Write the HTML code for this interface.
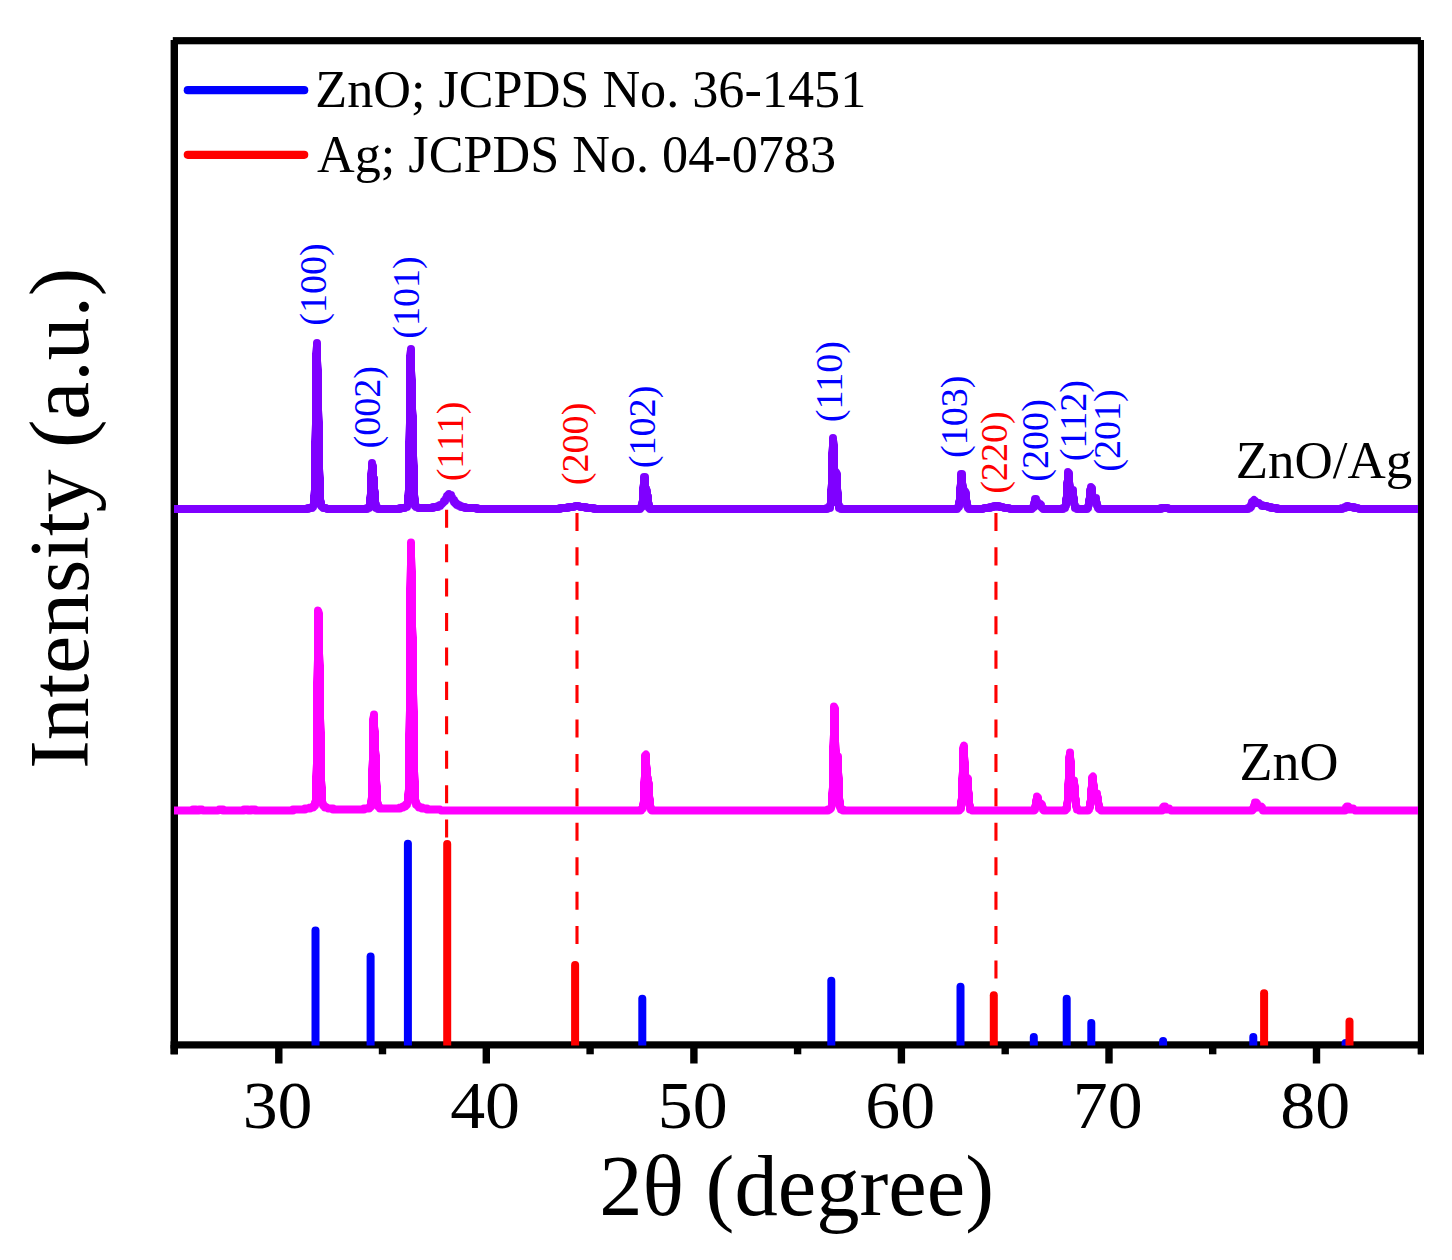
<!DOCTYPE html>
<html>
<head>
<meta charset="utf-8">
<title>XRD patterns of ZnO and ZnO/Ag</title>
<style>
html,body{margin:0;padding:0;background:#ffffff;}
body{width:1452px;height:1260px;overflow:hidden;}
svg{display:block;}
text{font-family:"Liberation Serif",serif;}
</style>
</head>
<body>
<svg width="1452" height="1260" viewBox="0 0 1452 1260">
<rect x="0" y="0" width="1452" height="1260" fill="#ffffff"/>

<!-- dashed guide lines -->

<line x1="446.6" y1="509.7" x2="446.6" y2="842" stroke="#ff0000" stroke-width="3.1" stroke-dasharray="18.05 16.38"/>
<line x1="577.0" y1="512.9" x2="577.0" y2="958" stroke="#ff0000" stroke-width="3.1" stroke-dasharray="18.05 16.38"/>
<line x1="995.95" y1="512.9" x2="995.95" y2="994" stroke="#ff0000" stroke-width="3.1" stroke-dasharray="18.05 16.38"/>


<!-- frame -->
<rect x="170.6" y="40" width="7.4" height="1014.3" fill="#000"/>
<rect x="172.8" y="37.1" width="1248.1" height="7.2" fill="#000"/>
<rect x="1417.8" y="40" width="6.2" height="1014.3" fill="#000"/>
<rect x="170.6" y="1041.3" width="1253.4" height="7.2" fill="#000"/>
<rect x="170.6" y="1045" width="7.2" height="9.3" fill="#000"/>
<rect x="275.1" y="1045" width="7.4" height="18.5" fill="#000"/>
<rect x="378.8" y="1045" width="7.4" height="9.3" fill="#000"/>
<rect x="482.6" y="1045" width="7.4" height="18.5" fill="#000"/>
<rect x="586.4" y="1045" width="7.4" height="9.3" fill="#000"/>
<rect x="690.2" y="1045" width="7.4" height="18.5" fill="#000"/>
<rect x="793.9" y="1045" width="7.4" height="9.3" fill="#000"/>
<rect x="897.7" y="1045" width="7.4" height="18.5" fill="#000"/>
<rect x="1001.5" y="1045" width="7.4" height="9.3" fill="#000"/>
<rect x="1105.3" y="1045" width="7.4" height="18.5" fill="#000"/>
<rect x="1209.0" y="1045" width="7.4" height="9.3" fill="#000"/>
<rect x="1312.8" y="1045" width="7.4" height="18.5" fill="#000"/>
<rect x="1417.8" y="1045" width="6.2" height="9.3" fill="#000"/>

<!-- XRD curves -->
<path d="M174,810.5 L193,810.5 L193,809.5 L196,809.5 L196,810.5 L199,810.5 L199,809.5 L202,809.5 L203,810.5 L218,810.5 L219,809.5 L223,809.5 L223,810.5 L244,810.5 L244,809.5 L248,809.5 L248,810.5 L251,810.5 L251,809.5 L255,809.5 L255,810.5 L293,810.5 L293,809.5 L305,809.5 L305,808.5 L310,808.5 L310,807.5 L313,807.5 L313,806.5 L314,806.5 L314,805.5 L315,805.5 L315,802.5 L316,800.5 L316,776.5 L317,763.5 L317,682.5 L318,659.5 L318,610.5 L319,613.5 L319,653.5 L320,665.5 L320,718.5 L321,732.5 L321,780.5 L322,787.5 L322,802.5 L323,803.5 L323,805.5 L324,806.5 L325,806.5 L325,807.5 L327,807.5 L328,808.5 L333,808.5 L333,809.5 L364,809.5 L364,808.5 L369,808.5 L369,807.5 L370,807.5 L370,806.5 L371,806.5 L371,801.5 L372,797.5 L372,769.5 L373,759.5 L373,719.5 L374,715.5 L374,714.5 L374,726.5 L375,731.5 L375,750.5 L376,755.5 L376,780.5 L377,786.5 L377,802.5 L378,803.5 L378,806.5 L379,807.5 L380,807.5 L380,808.5 L400,808.5 L400,807.5 L403,807.5 L403,806.5 L405,806.5 L405,805.5 L406,805.5 L406,804.5 L407,804.5 L407,803.5 L408,802.5 L408,794.5 L409,789.5 L409,734.5 L410,710.5 L410,588.5 L411,564.5 L411,542.5 L411,556.5 L412,571.5 L412,626.5 L413,637.5 L413,693.5 L414,711.5 L414,771.5 L415,781.5 L415,800.5 L416,801.5 L416,804.5 L417,804.5 L417,805.5 L418,806.5 L419,806.5 L419,807.5 L422,807.5 L422,808.5 L427,808.5 L427,809.5 L440,809.5 L441,810.5 L641,810.5 L641,809.5 L642,809.5 L643,808.5 L643,804.5 L644,801.5 L644,782.5 L645,776.5 L645,755.5 L646,754.5 L646,764.5 L647,768.5 L647,778.5 L648,778.5 L648,781.5 L649,783.5 L649,796.5 L650,799.5 L650,806.5 L651,807.5 L651,809.5 L652,809.5 L652,810.5 L828,810.5 L828,809.5 L830,809.5 L831,808.5 L831,807.5 L832,805.5 L832,793.5 L833,787.5 L833,746.5 L834,734.5 L834,706.5 L835,708.5 L835,741.5 L836,750.5 L836,767.5 L837,766.5 L837,756.5 L838,756.5 L838,772.5 L839,778.5 L839,798.5 L840,801.5 L840,807.5 L841,808.5 L841,809.5 L843,809.5 L843,810.5 L959,810.5 L959,809.5 L960,809.5 L960,808.5 L961,808.5 L961,801.5 L962,798.5 L962,778.5 L963,771.5 L963,748.5 L964,745.5 L964,756.5 L965,762.5 L965,782.5 L966,785.5 L966,786.5 L966,783.5 L967,781.5 L967,777.5 L968,778.5 L968,790.5 L969,793.5 L969,804.5 L970,805.5 L970,809.5 L971,809.5 L972,810.5 L1034,810.5 L1034,809.5 L1035,809.5 L1035,806.5 L1036,805.5 L1036,800.5 L1037,799.5 L1037,796.5 L1038,797.5 L1038,801.5 L1039,802.5 L1039,805.5 L1040,805.5 L1040,804.5 L1041,804.5 L1041,803.5 L1042,804.5 L1042,806.5 L1043,807.5 L1043,809.5 L1044,809.5 L1044,810.5 L1065,810.5 L1065,809.5 L1066,809.5 L1066,808.5 L1067,808.5 L1067,803.5 L1068,800.5 L1068,784.5 L1069,778.5 L1069,757.5 L1070,754.5 L1070,752.5 L1070,757.5 L1071,761.5 L1071,780.5 L1072,784.5 L1072,790.5 L1073,789.5 L1073,782.5 L1074,781.5 L1074,780.5 L1074,783.5 L1075,786.5 L1075,797.5 L1076,799.5 L1076,806.5 L1077,807.5 L1077,809.5 L1078,809.5 L1079,810.5 L1088,810.5 L1088,809.5 L1089,809.5 L1089,808.5 L1090,807.5 L1090,802.5 L1091,800.5 L1091,789.5 L1092,786.5 L1092,777.5 L1093,776.5 L1093,782.5 L1094,785.5 L1094,794.5 L1095,795.5 L1095,797.5 L1095,796.5 L1096,796.5 L1096,793.5 L1097,793.5 L1097,796.5 L1098,797.5 L1098,803.5 L1099,804.5 L1099,808.5 L1100,808.5 L1100,809.5 L1101,810.5 L1162,810.5 L1162,809.5 L1163,809.5 L1163,807.5 L1164,807.5 L1164,806.5 L1165,806.5 L1165,807.5 L1166,808.5 L1166,809.5 L1168,809.5 L1168,808.5 L1169,808.5 L1169,809.5 L1170,809.5 L1171,810.5 L1252,810.5 L1252,809.5 L1253,809.5 L1253,808.5 L1254,808.5 L1254,805.5 L1255,804.5 L1255,802.5 L1256,802.5 L1256,803.5 L1257,803.5 L1257,805.5 L1258,806.5 L1258,807.5 L1259,807.5 L1260,806.5 L1261,806.5 L1261,807.5 L1262,807.5 L1262,808.5 L1263,809.5 L1263,810.5 L1345,810.5 L1345,809.5 L1346,808.5 L1346,807.5 L1347,807.5 L1347,806.5 L1348,806.5 L1348,807.5 L1349,808.5 L1349,809.5 L1351,809.5 L1352,808.5 L1353,808.5 L1353,809.5 L1354,809.5 L1355,810.5 L1418,810.5" fill="none" stroke="#ff00ff" stroke-width="8" stroke-linejoin="round" stroke-linecap="butt"/>
<path d="M174,509.0 L308,509.0 L308,508.0 L312,508.0 L312,507.0 L313,507.0 L313,506.0 L314,505.0 L314,496.0 L315,490.0 L315,442.0 L316,424.0 L316,354.0 L317,346.0 L317,343.0 L317,361.0 L318,370.0 L318,410.0 L319,422.0 L319,469.0 L320,478.0 L320,500.0 L321,502.0 L321,506.0 L322,507.0 L323,508.0 L326,508.0 L327,509.0 L367,509.0 L367,508.0 L369,508.0 L369,507.0 L370,506.0 L370,498.0 L371,494.0 L371,474.0 L372,469.0 L372,463.0 L372,464.0 L373,466.0 L373,476.0 L374,478.0 L374,489.0 L375,492.0 L375,503.0 L376,504.0 L376,508.0 L378,508.0 L378,509.0 L400,509.0 L400,508.0 L405,508.0 L406,507.0 L407,507.0 L407,506.0 L408,505.0 L408,496.0 L409,490.0 L409,442.0 L410,423.0 L410,356.0 L411,350.0 L411,349.0 L411,371.0 L412,380.0 L412,409.0 L413,416.0 L413,456.0 L414,466.0 L414,495.0 L415,499.0 L415,506.0 L416,506.0 L416,507.0 L417,507.0 L418,508.0 L433,508.0 L433,507.0 L438,507.0 L438,506.0 L440,506.0 L440,505.0 L441,505.0 L442,504.0 L443,503.0 L444,502.0 L444,501.0 L445,501.0 L445,500.0 L446,499.0 L446,498.0 L447,497.0 L447,496.0 L448,496.0 L448,495.0 L449,495.0 L449,494.0 L450,495.0 L451,495.0 L451,496.0 L452,497.0 L452,498.0 L453,499.0 L453,500.0 L454,500.0 L454,502.0 L455,502.0 L455,503.0 L456,503.0 L456,504.0 L457,504.0 L457,505.0 L459,505.0 L459,506.0 L461,506.0 L461,507.0 L465,507.0 L465,508.0 L477,508.0 L477,509.0 L560,509.0 L560,508.0 L568,508.0 L568,507.0 L574,507.0 L575,506.0 L579,506.0 L580,507.0 L586,507.0 L586,508.0 L594,508.0 L594,509.0 L640,509.0 L640,508.0 L641,508.0 L642,507.0 L642,503.0 L643,501.0 L643,488.0 L644,484.0 L644,477.0 L645,477.0 L645,486.0 L646,488.0 L646,491.0 L647,491.0 L647,494.0 L648,496.0 L648,503.0 L649,504.0 L649,508.0 L650,508.0 L650,509.0 L827,509.0 L827,508.0 L830,508.0 L830,505.0 L831,504.0 L831,490.0 L832,484.0 L832,453.0 L833,446.0 L833,438.0 L833,440.0 L834,445.0 L834,471.0 L835,475.0 L835,479.0 L835,478.0 L836,476.0 L836,472.0 L837,474.0 L837,489.0 L838,493.0 L838,504.0 L839,505.0 L839,508.0 L841,508.0 L841,509.0 L957,509.0 L957,508.0 L958,508.0 L959,507.0 L959,502.0 L960,500.0 L960,488.0 L961,484.0 L961,474.0 L962,474.0 L962,483.0 L963,486.0 L963,495.0 L964,496.0 L964,493.0 L965,492.0 L965,491.0 L966,493.0 L966,500.0 L967,502.0 L967,506.0 L968,507.0 L968,508.0 L969,508.0 L969,509.0 L983,509.0 L984,508.0 L990,508.0 L990,507.0 L994,507.0 L994,506.0 L999,506.0 L999,507.0 L1003,507.0 L1004,508.0 L1009,508.0 L1010,509.0 L1032,509.0 L1033,508.0 L1033,507.0 L1034,507.0 L1034,503.0 L1035,502.0 L1035,499.0 L1036,499.0 L1036,500.0 L1037,501.0 L1037,504.0 L1038,505.0 L1039,505.0 L1039,504.0 L1040,504.0 L1040,505.0 L1041,505.0 L1041,507.0 L1042,508.0 L1043,509.0 L1063,509.0 L1063,508.0 L1065,508.0 L1065,507.0 L1066,506.0 L1066,499.0 L1067,497.0 L1067,483.0 L1068,480.0 L1068,472.0 L1069,473.0 L1069,482.0 L1070,486.0 L1070,495.0 L1071,496.0 L1071,494.0 L1072,493.0 L1072,490.0 L1073,490.0 L1073,496.0 L1074,498.0 L1074,504.0 L1075,505.0 L1075,508.0 L1077,508.0 L1077,509.0 L1087,509.0 L1087,508.0 L1088,508.0 L1088,506.0 L1089,505.0 L1089,500.0 L1090,498.0 L1090,490.0 L1091,489.0 L1091,487.0 L1092,488.0 L1092,495.0 L1093,496.0 L1093,500.0 L1094,500.0 L1094,499.0 L1095,498.0 L1096,498.0 L1096,502.0 L1097,503.0 L1097,506.0 L1098,507.0 L1098,508.0 L1099,508.0 L1099,509.0 L1161,509.0 L1161,508.0 L1168,508.0 L1169,509.0 L1248,509.0 L1248,508.0 L1250,508.0 L1250,507.0 L1251,507.0 L1251,505.0 L1252,505.0 L1252,502.0 L1253,502.0 L1253,501.0 L1254,500.0 L1254,501.0 L1255,501.0 L1255,503.0 L1259,503.0 L1260,504.0 L1261,505.0 L1262,505.0 L1262,506.0 L1267,506.0 L1268,507.0 L1271,507.0 L1271,508.0 L1277,508.0 L1277,509.0 L1342,509.0 L1342,508.0 L1345,508.0 L1345,507.0 L1347,507.0 L1347,506.0 L1348,506.0 L1348,507.0 L1354,507.0 L1354,508.0 L1358,508.0 L1359,509.0 L1418,509.0" fill="none" stroke="#7f00ff" stroke-width="8" stroke-linejoin="round" stroke-linecap="butt"/>

<!-- reference sticks -->
<path d="M311.5,1045.6 L311.5,930.4 A4.0,4.0 0 0 1 319.5,930.4 L319.5,1045.6 Z" fill="#0000ff"/>
<path d="M366.6,1045.6 L366.6,956.5 A4.0,4.0 0 0 1 374.6,956.5 L374.6,1045.6 Z" fill="#0000ff"/>
<path d="M403.9,1045.6 L403.9,843.8 A4.0,4.0 0 0 1 411.9,843.8 L411.9,1045.6 Z" fill="#0000ff"/>
<path d="M638.3,1045.6 L638.3,998.8 A4.0,4.0 0 0 1 646.3,998.8 L646.3,1045.6 Z" fill="#0000ff"/>
<path d="M827.3,1045.6 L827.3,980.7 A4.0,4.0 0 0 1 835.3,980.7 L835.3,1045.6 Z" fill="#0000ff"/>
<path d="M956.5,1045.6 L956.5,986.7 A4.0,4.0 0 0 1 964.5,986.7 L964.5,1045.6 Z" fill="#0000ff"/>
<path d="M1029.8,1045.6 L1029.8,1037.0 A4.0,4.0 0 0 1 1037.8,1037.0 L1037.8,1045.6 Z" fill="#0000ff"/>
<path d="M1062.7,1045.6 L1062.7,998.8 A4.0,4.0 0 0 1 1070.7,998.8 L1070.7,1045.6 Z" fill="#0000ff"/>
<path d="M1087.3,1045.6 L1087.3,1023.0 A4.0,4.0 0 0 1 1095.3,1023.0 L1095.3,1045.6 Z" fill="#0000ff"/>
<path d="M1159.1,1045.6 L1159.1,1041.1 A4.0,4.0 0 0 1 1167.1,1041.1 L1167.1,1045.6 Z" fill="#0000ff"/>
<path d="M1249.3,1045.6 L1249.3,1037.0 A4.0,4.0 0 0 1 1257.3,1037.0 L1257.3,1045.6 Z" fill="#0000ff"/>
<path d="M1341.6,1045.6 L1341.6,1043.1 A4.0,4.0 0 0 1 1349.6,1043.1 L1349.6,1045.6 Z" fill="#0000ff"/>
<path d="M443.2,1045.6 L443.2,843.9 A4.0,4.0 0 0 1 451.2,843.9 L451.2,1045.6 Z" fill="#ff0000"/>
<path d="M571.1,1045.6 L571.1,965.0 A4.0,4.0 0 0 1 579.1,965.0 L579.1,1045.6 Z" fill="#ff0000"/>
<path d="M989.8,1045.6 L989.8,995.2 A4.0,4.0 0 0 1 997.8,995.2 L997.8,1045.6 Z" fill="#ff0000"/>
<path d="M1260.1,1045.6 L1260.1,993.2 A4.0,4.0 0 0 1 1268.1,993.2 L1268.1,1045.6 Z" fill="#ff0000"/>
<path d="M1345.5,1045.6 L1345.5,1021.5 A4.0,4.0 0 0 1 1353.5,1021.5 L1353.5,1045.6 Z" fill="#ff0000"/>

<!-- legend -->
<line x1="187.8" y1="90.2" x2="304.2" y2="90.2" stroke="#0000ff" stroke-width="8.2" stroke-linecap="round"/>
<line x1="187.8" y1="154.8" x2="304.2" y2="154.8" stroke="#ff0000" stroke-width="8.2" stroke-linecap="round"/>
<text x="315.3" y="107.3" font-size="52.2">ZnO; JCPDS No. 36-1451</text>
<text x="317" y="171.7" font-size="52.2">Ag; JCPDS No. 04-0783</text>

<!-- curve names -->
<text x="1235.7" y="478" font-size="53.0">ZnO/Ag</text>
<text x="1239.6" y="780.2" font-size="54">ZnO</text>

<!-- peak labels -->
<text transform="translate(325.9,284.5) rotate(-90)" font-size="38.1" text-anchor="middle" fill="#0000ff">(100)</text>
<text transform="translate(379.7,407.3) rotate(-90)" font-size="38.1" text-anchor="middle" fill="#0000ff">(002)</text>
<text transform="translate(419.4,297.5) rotate(-90)" font-size="38.1" text-anchor="middle" fill="#0000ff">(101)</text>
<text transform="translate(462.5,441.5) rotate(-90)" font-size="38.1" text-anchor="middle" fill="#ff0000">(111)</text>
<text transform="translate(587.9,443.9) rotate(-90)" font-size="38.1" text-anchor="middle" fill="#ff0000">(200)</text>
<text transform="translate(654.8,426.9) rotate(-90)" font-size="38.1" text-anchor="middle" fill="#0000ff">(102)</text>
<text transform="translate(842.2,381.6) rotate(-90)" font-size="38.1" text-anchor="middle" fill="#0000ff">(110)</text>
<text transform="translate(966.9,416.8) rotate(-90)" font-size="38.1" text-anchor="middle" fill="#0000ff">(103)</text>
<text transform="translate(1007.1,452.6) rotate(-90)" font-size="38.1" text-anchor="middle" fill="#ff0000">(220)</text>
<text transform="translate(1047.5,440.4) rotate(-90)" font-size="38.1" text-anchor="middle" fill="#0000ff">(200)</text>
<text transform="translate(1086.4,420.6) rotate(-90)" font-size="38.1" text-anchor="middle" fill="#0000ff">(112)</text>
<text transform="translate(1120.4,430.5) rotate(-90)" font-size="38.1" text-anchor="middle" fill="#0000ff">(201)</text>

<!-- axis text -->
<text transform="translate(277.6,1127.7) scale(1.04,1)" font-size="67.2" text-anchor="middle">30</text>
<text transform="translate(485.1,1127.7) scale(1.04,1)" font-size="67.2" text-anchor="middle">40</text>
<text transform="translate(692.7,1127.7) scale(1.04,1)" font-size="67.2" text-anchor="middle">50</text>
<text transform="translate(900.2,1127.7) scale(1.04,1)" font-size="67.2" text-anchor="middle">60</text>
<text transform="translate(1107.8,1127.7) scale(1.04,1)" font-size="67.2" text-anchor="middle">70</text>
<text transform="translate(1315.3,1127.7) scale(1.04,1)" font-size="67.2" text-anchor="middle">80</text>
<text x="796.6" y="1215.2" font-size="86.6" text-anchor="middle">2&#952; (degree)</text>
<text transform="translate(87.8,518.2) rotate(-90)" font-size="85.5" text-anchor="middle">Intensity (a.u.)</text>
</svg>
</body>
</html>
